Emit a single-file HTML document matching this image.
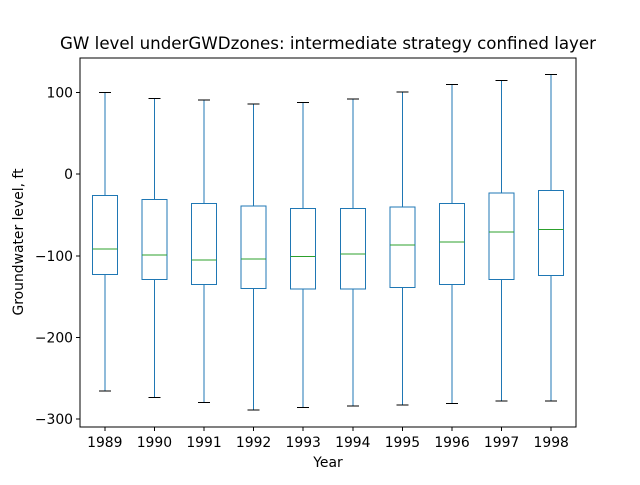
<!DOCTYPE html>
<html><head><meta charset="utf-8">
<style>
html,body{margin:0;padding:0;background:#fff;}
svg text{font-family:"DejaVu Sans","Liberation Sans",sans-serif;}
</style></head>
<body>
<svg id="chart" width="640" height="480" viewBox="0 0 640 480" xmlns="http://www.w3.org/2000/svg">
<rect width="640" height="480" fill="#fff"/>
<text x="328" y="49" font-size="16.67" text-anchor="middle">GW level underGWDzones: intermediate strategy confined layer</text>
<text x="328" y="467" font-size="13.9" text-anchor="middle">Year</text>
<text transform="translate(23,242) rotate(-90)" font-size="13.9" text-anchor="middle">Groundwater level, ft</text>
<g id="marks"></g>
<rect x="80" y="58" width="496" height="369" fill="none" stroke="#000" stroke-width="1"/>
</svg>
<script>
const years = ["1989","1990","1991","1992","1993","1994","1995","1996","1997","1998"];
const whiskerHigh = [100, 93, 91, 86, 88, 92, 101, 110, 115, 122];
const q3 = [-26, -31, -36, -39, -42, -42, -40, -36, -23, -20];
const medians = [-92, -99, -105, -104, -101, -98, -87, -83, -71, -68];
const q1 = [-123, -129, -135, -140, -141, -141, -139, -135, -129, -124];
const whiskerLow = [-266, -274, -280, -289, -286, -284, -283, -281, -278, -278];
const yTicks = [100, 0, -100, -200, -300];
const yTickLabels = ["100", "0", "\u2212100", "\u2212200", "\u2212300"];

const L=80,R=576,T=58,B=427, yMin=-310, yMax=142.5;
const y = v => B - (v - yMin)/(yMax - yMin)*(B-T);
const step=(R-L)/years.length;
const x = i => L + step*(i+0.5);
const NS="http://www.w3.org/2000/svg";
const g=document.getElementById('marks');
function mk(tag, attrs){const e=document.createElementNS(NS,tag);for(const k in attrs)e.setAttribute(k,attrs[k]);g.appendChild(e);return e;}
const blue="#1f77b4", green="#2ca02c", bw=25, cw=12;

yTicks.forEach((t,i)=>{
  const l=mk('line',{x1:L-4,x2:L,y1:y(t),y2:y(t),stroke:'#000'});
  
  
  const tx=mk('text',{x:L-7,y:y(t)+5,'font-size':13.9,'text-anchor':'end'});
  tx.textContent=yTickLabels[i];
  
  
});
years.forEach((yr,i)=>{
  const cx=x(i);
  const l=mk('line',{x1:cx,x2:cx,y1:B,y2:B+4,stroke:'#000'});
  
  
  const tx=mk('text',{x:cx,y:B+20,'font-size':13.9,'text-anchor':'middle'});
  tx.textContent=yr;
  
  
  const w1=mk('line',{x1:cx,x2:cx,y1:y(whiskerHigh[i]),y2:y(q3[i]),stroke:blue});
  
  
  const w2=mk('line',{x1:cx,x2:cx,y1:y(q1[i]),y2:y(whiskerLow[i]),stroke:blue});
  
  
  const c1=mk('line',{x1:cx-cw/2,x2:cx+cw/2,y1:y(whiskerHigh[i]),y2:y(whiskerHigh[i]),stroke:'#000'});
  
  
  const c2=mk('line',{x1:cx-cw/2,x2:cx+cw/2,y1:y(whiskerLow[i]),y2:y(whiskerLow[i]),stroke:'#000'});
  
  
  const b=mk('rect',{x:cx-bw/2,y:y(q3[i]),width:bw,height:y(q1[i])-y(q3[i]),fill:'none',stroke:blue});
  
  
  const m=mk('line',{x1:cx-bw/2,x2:cx+bw/2,y1:y(medians[i]),y2:y(medians[i]),stroke:green});
  
  
});
g.querySelectorAll('line,rect').forEach(e=>{e.setAttribute('stroke-width','1');e.setAttribute('shape-rendering','crispEdges');});
</script>
</body></html>
